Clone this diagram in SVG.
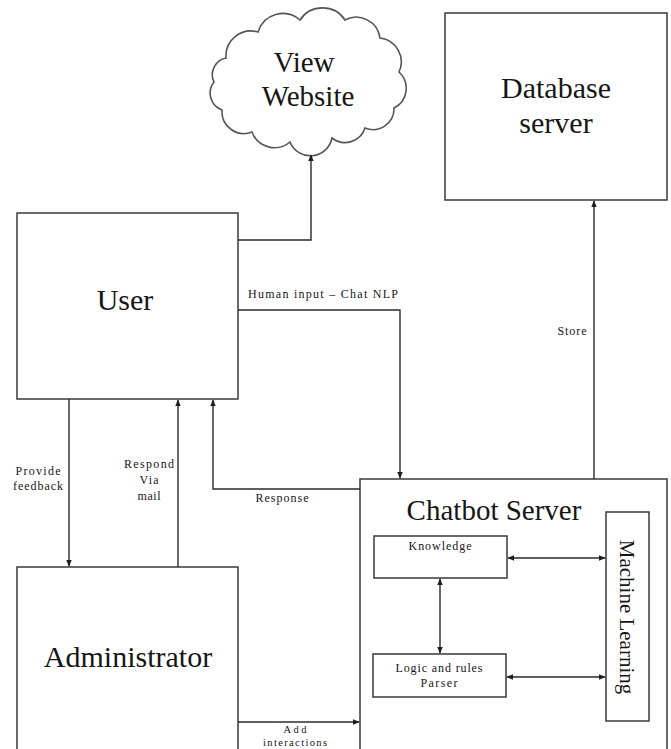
<svg xmlns="http://www.w3.org/2000/svg" width="671" height="749" viewBox="0 0 671 749">
<style>
.box{fill:#fff;stroke:#3a3a3a;stroke-width:1.5}
.cloud{fill:#fff;stroke:#555;stroke-width:1.6}
.t{font-family:"Liberation Serif","Times New Roman",serif;fill:#161616}
.big{font-size:30px}
.mid{font-size:29px}
.sm{font-size:12px}
.xs{font-size:10.5px}
.edge{fill:none;stroke:#2a2a2a;stroke-width:1.4}
</style>
<defs>
<marker id="ah" viewBox="0 0 10 10" refX="9" refY="5" markerWidth="7" markerHeight="7" orient="auto-start-reverse" markerUnits="userSpaceOnUse">
<path d="M0,1 L10,5 L0,9 z" fill="#1e1e1e"/>
</marker>
</defs>
<rect width="671" height="749" fill="#fff"/>

<g id="cloud-view-website">
<path class="cloud" d="M226,58 A25,25 0 0 1 258,32 A26,26 0 0 1 300,20 A27,27 0 0 1 345,20 A24,24 0 0 1 380,38 A24,24 0 0 1 399,72 A22,22 0 0 1 394,108 A21,21 0 0 1 365,128 A21,21 0 0 1 332,138 A22,22 0 0 1 290,142 A24,24 0 0 1 252,132 A22,22 0 0 1 222,110 A18,18 0 0 1 214,82 A17,17 0 0 1 226,58 Z"/>
<text class="t mid" x="304" y="72" text-anchor="middle">View</text>
<text class="t mid" x="308" y="106" text-anchor="middle">Website</text>
</g>

<g id="database-server">
<rect class="box" x="445" y="13" width="222" height="187"/>
<text class="t big" x="556" y="98" text-anchor="middle">Database</text>
<text class="t big" x="556" y="133" text-anchor="middle">server</text>
</g>

<g id="user">
<rect class="box" x="17" y="213" width="221" height="186"/>
<text class="t big" x="125" y="310" text-anchor="middle">User</text>
</g>

<g id="administrator">
<rect class="box" x="17" y="567" width="221" height="200"/>
<text class="t big" x="128" y="667" text-anchor="middle">Administrator</text>
</g>

<g id="chatbot-server">
<rect class="box" x="360" y="479" width="307" height="290"/>
<text class="t mid" x="494" y="520" text-anchor="middle">Chatbot Server</text>
</g>

<g id="knowledge">
<rect class="box" x="374" y="536" width="133" height="42"/>
<text class="t sm" x="440" y="550" text-anchor="middle" textLength="63" lengthAdjust="spacing">Knowledge</text>
</g>

<g id="logic-parser">
<rect class="box" x="373" y="654" width="133" height="43"/>
<text class="t sm" x="439" y="672" text-anchor="middle" textLength="87" lengthAdjust="spacing">Logic and rules</text>
<text class="t sm" x="439" y="687" text-anchor="middle" textLength="37" lengthAdjust="spacing">Parser</text>
</g>

<g id="machine-learning">
<rect class="box" x="606" y="512" width="43" height="209"/>
<text class="t" font-size="21" transform="translate(620,617) rotate(90)" text-anchor="middle">Machine Learning</text>
</g>

<g id="connectors">
<path class="edge" d="M238,240 H311 V155" marker-end="url(#ah)"/>
<path class="edge" d="M238,310 H400 V478" marker-end="url(#ah)"/>
<path class="edge" d="M69,399 V566" marker-end="url(#ah)"/>
<path class="edge" d="M178,567 V400" marker-end="url(#ah)"/>
<path class="edge" d="M360,489 H213 V400" marker-end="url(#ah)"/>
<path class="edge" d="M594,479 V201" marker-end="url(#ah)"/>
<path class="edge" d="M238,722 H359" marker-end="url(#ah)"/>
<path class="edge" d="M440,579 V653" marker-start="url(#ah)" marker-end="url(#ah)"/>
<path class="edge" d="M508,558 H605" marker-start="url(#ah)" marker-end="url(#ah)"/>
<path class="edge" d="M507,677 H605" marker-start="url(#ah)" marker-end="url(#ah)"/>

<text class="t sm" x="323" y="298" text-anchor="middle" textLength="150" lengthAdjust="spacing">Human input – Chat NLP</text>
<text class="t sm" x="38" y="475" text-anchor="middle" textLength="45" lengthAdjust="spacing">Provide</text>
<text class="t sm" x="38" y="490" text-anchor="middle" textLength="50" lengthAdjust="spacing">feedback</text>
<text class="t sm" x="149" y="468" text-anchor="middle" textLength="50" lengthAdjust="spacing">Respond</text>
<text class="t sm" x="149" y="484" text-anchor="middle" textLength="19" lengthAdjust="spacing">Via</text>
<text class="t sm" x="149" y="500" text-anchor="middle" textLength="23" lengthAdjust="spacing">mail</text>
<text class="t sm" x="282" y="502" text-anchor="middle" textLength="53" lengthAdjust="spacing">Response</text>
<text class="t sm" x="572" y="335" text-anchor="middle" textLength="29" lengthAdjust="spacing">Store</text>
<text class="t xs" x="295" y="733" text-anchor="middle" textLength="23" lengthAdjust="spacing">Add</text>
<text class="t xs" x="295" y="746" text-anchor="middle" textLength="64" lengthAdjust="spacing">interactions</text>
</g>
</svg>
